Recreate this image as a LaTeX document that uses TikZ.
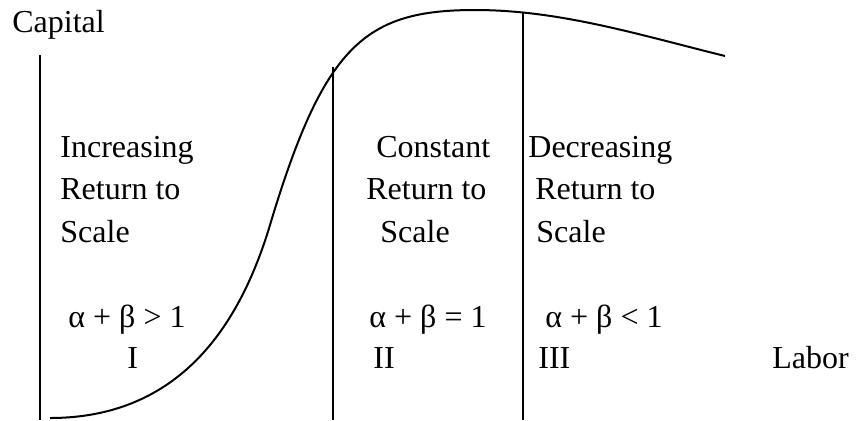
\documentclass[tikz,border=0pt]{standalone}
\usepackage{fontspec}
\setmainfont{Liberation Serif}
\begin{document}
\begin{tikzpicture}[x=0.5pt, y=-0.5pt,
    txt/.style={anchor=base west, inner sep=0pt, font=\fontsize{16}{19}\selectfont},
    bound/.style={line width=1pt}]
    \useasboundingbox (0,0) rectangle (859,420);

    % Axis and region boundaries
    \coordinate (axtop) at (40,55);
    \coordinate (axbot) at (40,420);
    \coordinate (bTwo) at (333,67);
    \coordinate (bTwoBot) at (333,420);
    \coordinate (bThree) at (523,13);
    \coordinate (bThreeBot) at (523,420);
    \draw[bound] (axtop) -- (axbot);
    \draw[bound] (bTwo) -- (bTwoBot);
    \draw[bound] (bThree) -- (bThreeBot);

    % Production curve
    \coordinate (cStart) at (50,418);
    \coordinate (cMid) at (270,225);
    \coordinate (cPeak) at (475,10);
    \coordinate (cEnd) at (725,56);
    \draw[bound] (cStart) .. controls (180,418) and (240,325) .. (cMid)
        .. controls (324,45) and (365,10) .. (cPeak)
        .. controls (560,10) and (640,35) .. (cEnd);

    % Axis labels
    \node[txt] (capital) at (12,32) {Capital};
    \node[txt] (labor) at (772,368) {Labor};

    % Region I
    \node[txt] (incA) at (60,157) {Increasing};
    \node[txt] (incB) at (60,199) {Return to};
    \node[txt] (incC) at (60,242) {Scale};
    \node[txt] (incD) at (68,327) {α + β > 1};
    \node[txt] (incE) at (127,368) {I};

    % Region II
    \node[txt] (conA) at (376,157) {Constant};
    \node[txt] (conB) at (366,199) {Return to};
    \node[txt] (conC) at (380,242) {Scale};
    \node[txt] (conD) at (369,327) {α + β = 1};
    \node[txt] (conE) at (373,368) {II};

    % Region III
    \node[txt] (decA) at (528,157) {Decreasing};
    \node[txt] (decB) at (535,199) {Return to};
    \node[txt] (decC) at (536,242) {Scale};
    \node[txt] (decD) at (545,327) {α + β < 1};
    \node[txt] (decE) at (538,368) {III};
\end{tikzpicture}
\end{document}
